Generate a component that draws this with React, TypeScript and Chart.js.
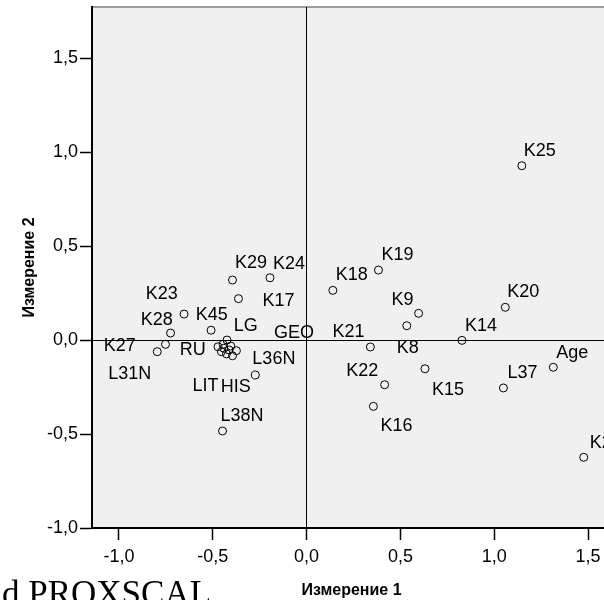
import React, { useEffect, useRef } from "react";
import { Chart, registerables } from "chart.js";

Chart.register(...registerables);

// Object names (empty = unlabeled point in the dense cluster)
const names: string[] = [
  "K25", "K19", "K18", "K9", "K8", "K21", "K14", "K20", "Age", "L37",
  "K15", "K22", "K16", "K26", "K29", "K24", "K17", "K23", "K28", "K45",
  "K27", "L31N", "RU", "LG", "GEO", "LIT", "HIS", "L36N", "L38N",
  "", "", "", "", "",
];

// Dimension 1 coordinates
const dim1: number[] = [
  1.147, 0.383, 0.140, 0.597, 0.534, 0.340, 0.828, 1.059, 1.315, 1.049,
  0.631, 0.416, 0.356, 1.477, -0.395, -0.195, -0.363, -0.653, -0.725, -0.509,
  -0.752, -0.796, -0.472, -0.424, -0.374, -0.454, -0.395, -0.273, -0.448,
  -0.404, -0.445, -0.427, -0.413, -0.441,
];

// Dimension 2 coordinates
const dim2: number[] = [
  0.927, 0.372, 0.264, 0.142, 0.076, -0.037, -0.002, 0.174, -0.145, -0.255,
  -0.153, -0.238, -0.353, -0.624, 0.319, 0.331, 0.220, 0.138, 0.037, 0.052,
  -0.023, -0.062, -0.036, 0.0, -0.057, -0.062, -0.084, -0.186, -0.484,
  -0.032, -0.023, -0.074, -0.053, -0.044,
];

// Label placement relative to the marker (pixels): [dx to text left, dy to cap middle]
const labelPlacement: [number, number][] = [
  [2, -16], [3, -16.5], [3, -17], [-27, -15], [-10, 21], [-38, -16], [3, -16], [2, -17], [3, -16], [4, -16],
  [7, 19.5], [-38.5, -15.5], [7, 18.5], [6, -15.5], [2.5, -18], [3, -15.5], [24, 1.3], [-38.3, -21.8], [-29.7, -14.7], [-15.3, -16.3],
  [-61.7, 0], [-49, 20.5], [-38.3, 2], [6.7, -15.7], [37.6, -19], [-29, 32.6], [-11.7, 30.3], [-3, -17.3], [-2, -16.7],
  [0, 0], [0, 0], [0, 0], [0, 0], [0, 0],
];

const xTitle = "Измерение 1";
const yTitle = "Измерение 2";
const xRange = [-1.1436, 1.6223];
const yRange = [-1.0, 1.7713];
const tickStep = 0.5;
const footerText = "d PROXSCAL";

const FONT = "'Liberation Sans', Arial, sans-serif";

const fmt = (v: number) => (Math.abs(v) < 1e-9 ? 0 : v).toFixed(1).replace(".", ",");

export default function App() {
  const ref = useRef<HTMLCanvasElement | null>(null);

  useEffect(() => {
    if (!ref.current) return;

    const bgPlugin = {
      id: "plotBg",
      beforeDraw(chart: any) {
        const { ctx, chartArea } = chart;
        ctx.save();
        ctx.fillStyle = "#ffffff";
        ctx.fillRect(0, 0, chart.width, chart.height);
        ctx.fillStyle = "#f0f0f0";
        ctx.fillRect(chartArea.left, chartArea.top, chartArea.right - chartArea.left, chartArea.bottom - chartArea.top);
        ctx.strokeStyle = "#808080";
        ctx.lineWidth = 1.5;
        ctx.beginPath();
        ctx.moveTo(chartArea.left, chartArea.top);
        ctx.lineTo(chartArea.right, chartArea.top);
        ctx.stroke();
        ctx.restore();
      },
    };

    const labelPlugin = {
      id: "pointLabels",
      afterDatasetsDraw(chart: any) {
        const { ctx } = chart;
        const meta = chart.getDatasetMeta(0);
        ctx.save();
        ctx.font = `18px ${FONT}`;
        ctx.fillStyle = "#000";
        ctx.textAlign = "left";
        ctx.textBaseline = "alphabetic";
        meta.data.forEach((pt: any, i: number) => {
          const name = names[i];
          if (!name) return;
          const [dx, dy] = labelPlacement[i];
          ctx.fillText(name, pt.x + dx, pt.y + dy + 6.4);
        });
        ctx.restore();
      },
    };

    const zeroGrid = (c: any) => (c.tick && Math.abs(c.tick.value) < 1e-9 ? "#000" : "rgba(0,0,0,0)");

    const chart = new Chart(ref.current, {
      type: "scatter",
      data: {
        datasets: [
          {
            data: dim1.map((x, i) => ({ x, y: dim2[i] })),
            pointRadius: 4,
            pointHoverRadius: 4,
            borderWidth: 1,
            borderColor: "#000",
            backgroundColor: "rgba(0,0,0,0)",
          },
        ],
      },
      options: {
        responsive: false,
        animation: false,
        events: [],
        layout: { padding: { top: 7, left: 0, right: 0, bottom: 0 } },
        plugins: {
          legend: { display: false },
          tooltip: { enabled: false },
        },
        scales: {
          x: {
            type: "linear",
            min: xRange[0],
            max: xRange[1],
            afterFit: (s: any) => {
              s.height = 72;
              s.paddingLeft = 0;
              s.paddingRight = 0;
            },
            ticks: {
              stepSize: tickStep,
              includeBounds: false,
              color: "#000",
              font: { family: FONT, size: 18 },
              padding: 6,
              maxRotation: 0,
              callback: (v: any) => fmt(Number(v)),
            },
            grid: {
              color: zeroGrid,
              tickColor: "#000",
              tickLength: 12,
              lineWidth: 1,
              tickWidth: 1.5,
            },
            border: { color: "#000", width: 2 },
            title: {
              display: true,
              text: xTitle,
              color: "#000",
              font: { family: FONT, size: 16, weight: "bold" },
              padding: { top: 0, bottom: 0 },
            },
          },
          y: {
            type: "linear",
            min: yRange[0],
            max: yRange[1],
            afterFit: (s: any) => {
              s.width = 92;
              s.paddingTop = 0;
              s.paddingBottom = 0;
            },
            ticks: {
              stepSize: tickStep,
              includeBounds: false,
              color: "#000",
              font: { family: FONT, size: 18 },
              padding: 2,
              callback: (v: any) => fmt(Number(v)),
            },
            grid: {
              color: zeroGrid,
              tickColor: "#000",
              tickLength: 12,
              lineWidth: 1,
              tickWidth: 1.5,
            },
            border: { color: "#000", width: 2 },
            title: {
              display: true,
              text: yTitle,
              color: "#000",
              font: { family: FONT, size: 16, weight: "bold" },
              padding: { top: 20, bottom: 0 },
            },
          },
        },
      },
      plugins: [bgPlugin, labelPlugin],
    } as any);

    return () => chart.destroy();
  }, []);

  return (
    <div
      style={{
        position: "fixed",
        left: 0,
        top: 0,
        width: 604,
        height: 600,
        overflow: "hidden",
        background: "#fff",
      }}
    >
      <canvas ref={ref} width={616} height={600} style={{ position: "absolute", left: 0, top: 0, width: 616, height: 600 }} />
      <div
        style={{
          position: "absolute",
          left: 2,
          top: 576,
          fontFamily: "'Liberation Serif', 'Times New Roman', serif",
          fontSize: 35,
          lineHeight: 1,
          whiteSpace: "nowrap",
          color: "#000",
        }}
      >
        {footerText}
      </div>
    </div>
  );
}
